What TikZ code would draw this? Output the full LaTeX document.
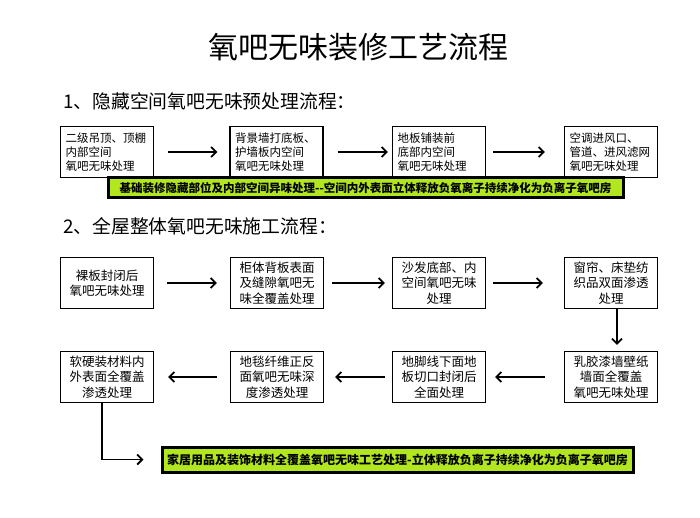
\documentclass[tikz,border=0pt]{standalone}
\usepackage{fontspec}
\setmainfont{Noto Sans CJK SC}
\usetikzlibrary{arrows.meta}
\definecolor{barg}{RGB}{178,230,30}
\begin{document}
\begin{tikzpicture}[x=1pt,y=-1pt,
  boxa/.style={draw,line width=1.2pt,minimum width=93pt,minimum height=51pt,inner xsep=5pt,inner ysep=0pt,text width=83pt,align=left,font=\fontsize{11.5}{14}\selectfont},
  boxb/.style={draw,line width=1.2pt,minimum width=93pt,minimum height=51pt,inner xsep=3pt,inner ysep=0pt,text width=87pt,align=center,font=\fontsize{12.5}{15.5}\selectfont},
  bar/.style={draw,line width=3pt,fill=barg,inner sep=0pt,font=\bfseries\fontsize{11.5}{13}\selectfont},
  arr/.style={line width=1.8pt,-{Straight Barb[length=5pt,width=10pt,line width=1.8pt]}}]
\useasboundingbox (0,0) rectangle (700,518);
\node (title) at (358,47) {\fontsize{30}{32}\selectfont 氧吧无味装修工艺流程};
\node[anchor=west,inner sep=0pt] (s1) at (63,101) {\fontsize{18.8}{20}\selectfont 1、隐藏空间氧吧无味预处理流程：};
\node[anchor=west,inner sep=0pt] (s2) at (63,226) {\fontsize{18.8}{20}\selectfont 2、全屋整体氧吧无味施工流程：};
% row 1
\node[boxa] (a1) at (107,152) {二级吊顶、顶棚\\内部空间\\氧吧无味处理};
\node[boxa] (a2) at (276.5,152) {背景墙打底板、\\护墙板内空间\\氧吧无味处理};
\node[boxa] (a3) at (439,152) {地板铺装前\\底部内空间\\氧吧无味处理};
\node[boxa] (a4) at (611,152) {空调进风口、\\管道、进风滤网\\氧吧无味处理};
\draw[arr,shorten <=14pt,shorten >=12pt] (a1) -- (a2);
\draw[arr,shorten <=14pt,shorten >=4pt] (a2) -- (a3);
\draw[arr,shorten <=7pt,shorten >=19pt] (a3) -- (a4);
\node[bar,minimum width=515pt,minimum height=20pt] (bar1) at (365.5,188) {基础装修隐藏部位及内部空间异味处理-{}-空间内外表面立体释放负氧离子持续净化为负离子氧吧房};
% row 2
\node[boxb] (b1) at (107,283) {裸板封闭后\\氧吧无味处理};
\node[boxb] (b2) at (277,283) {柜体背板表面\\及缝隙氧吧无\\味全覆盖处理};
\node[boxb] (b3) at (439,283) {沙发底部、内\\空间氧吧无味\\处理};
\node[boxb] (b4) at (611,283) {窗帘、床垫纺\\织品双面渗透\\处理};
\draw[arr,shorten <=13pt,shorten >=13pt] (b1) -- (b2);
\draw[arr,shorten <=8pt,shorten >=7pt] (b2) -- (b3);
\draw[arr,shorten <=7pt,shorten >=21pt] (b3) -- (b4);
% row 3
\node[boxb] (c1) at (107,377) {软硬装材料内\\外表面全覆盖\\渗透处理};
\node[boxb] (c2) at (277,377) {地毯纤维正反\\面氧吧无味深\\度渗透处理};
\node[boxb] (c3) at (439,377) {地脚线下面地\\板切口封闭后\\全面处理};
\node[boxb] (c4) at (611,377) {乳胶漆墙壁纸\\墙面全覆盖\\氧吧无味处理};
\draw[arr,shorten >=6pt] ([xshift=6pt]b4.south) -- ([xshift=6pt]c4.north);
\draw[arr,shorten <=19pt,shorten >=9pt] (c4) -- (c3);
\draw[arr,shorten <=7pt,shorten >=11pt] (c3) -- (c2);
\draw[arr,shorten <=13pt,shorten >=14pt] (c2) -- (c1);
\node[bar,minimum width=471pt,minimum height=25pt,font=\bfseries\fontsize{12}{14}\selectfont] (bar2) at (397.5,459.5) {家居用品及装饰材料全覆盖氧吧无味工艺处理-立体释放负离子持续净化为负离子氧吧房};
\draw[arr] ([xshift=-5pt]c1.south) |- ([xshift=-17pt]bar2.west);
\end{tikzpicture}
\end{document}
